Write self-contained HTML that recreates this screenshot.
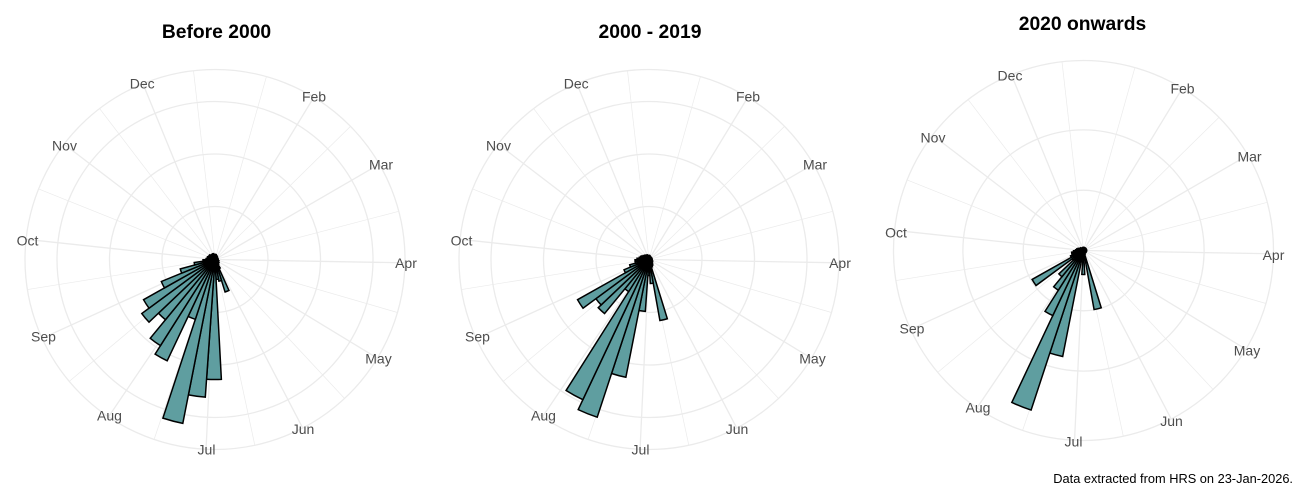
<!DOCTYPE html>
<html><head><meta charset="utf-8"><style>
html,body{margin:0;padding:0;background:#fff;}
svg{display:block;}
.lab{font-family:"Liberation Sans",Arial,sans-serif;font-size:14px;fill:#4D4D4D;text-anchor:middle;}
.ttl{font-family:"Liberation Sans",Arial,sans-serif;font-size:19.3px;font-weight:bold;fill:#000;text-anchor:middle;}
.cap{font-family:"Liberation Sans",Arial,sans-serif;font-size:12.8px;fill:#000;text-anchor:end;}
</style></head><body>
<svg width="1300" height="500" viewBox="0 0 1300 500" xmlns="http://www.w3.org/2000/svg">
<defs>
<path id="r3" d="M0 0L-.19 -2.99A3 3 0 0 1 .19 -2.99Z"/>
<path id="r4" d="M0 0L-.25 -3.99A4 4 0 0 1 .25 -3.99Z"/>
<path id="r5" d="M0 0L-.31 -4.99A5 5 0 0 1 .31 -4.99Z"/>
<path id="r6" d="M0 0L-.37 -5.99A6 6 0 0 1 .37 -5.99Z"/>
<path id="r7" d="M0 0L-.43 -6.99A7 7 0 0 1 .43 -6.99Z"/>
<path id="r8" d="M0 0L-.49 -7.98A8 8 0 0 1 .49 -7.98Z"/>
<path id="r9" d="M0 0L-.56 -8.98A9 9 0 0 1 .56 -8.98Z"/>
<path id="r10" d="M0 0L-.62 -9.98A10 10 0 0 1 .62 -9.98Z"/>
<path id="r12" d="M0 0L-.74 -11.98A12 12 0 0 1 .74 -11.98Z"/>
<path id="r14" d="M0 0L-.86 -13.97A14 14 0 0 1 .86 -13.97Z"/>
<path id="r16" d="M0 0L-.99 -15.97A16 16 0 0 1 .99 -15.97Z"/>
<path id="r20" d="M0 0L-1.23 -19.96A20 20 0 0 1 1.23 -19.96Z"/>
<path id="r21" d="M0 0L-1.30 -20.96A21 21 0 0 1 1.30 -20.96Z"/>
<path id="r22" d="M0 0L-1.36 -21.96A22 22 0 0 1 1.36 -21.96Z"/>
<path id="r24" d="M0 0L-1.48 -23.95A24 24 0 0 1 1.48 -23.95Z"/>
<path id="r27" d="M0 0L-1.67 -26.95A27 27 0 0 1 1.67 -26.95Z"/>
<path id="r34" d="M0 0L-2.10 -33.93A34 34 0 0 1 2.10 -33.93Z"/>
<path id="r36" d="M0 0L-2.22 -35.93A36 36 0 0 1 2.22 -35.93Z"/>
<path id="r38" d="M0 0L-2.34 -37.92A38 38 0 0 1 2.34 -37.92Z"/>
<path id="r47" d="M0 0L-2.90 -46.91A47 47 0 0 1 2.90 -46.91Z"/>
<path id="r52" d="M0 0L-3.21 -51.90A52 52 0 0 1 3.21 -51.90Z"/>
<path id="r58" d="M0 0L-3.58 -57.88A58 58 0 0 1 3.58 -57.88Z"/>
<path id="r59" d="M0 0L-3.64 -58.88A59 59 0 0 1 3.64 -58.88Z"/>
<path id="r60" d="M0 0L-3.70 -59.88A60 60 0 0 1 3.70 -59.88Z"/>
<path id="r62" d="M0 0L-3.83 -61.88A62 62 0 0 1 3.83 -61.88Z"/>
<path id="r63" d="M0 0L-3.89 -62.87A63 63 0 0 1 3.89 -62.87Z"/>
<path id="r66" d="M0 0L-4.07 -65.87A66 66 0 0 1 4.07 -65.87Z"/>
<path id="r70" d="M0 0L-4.32 -69.86A70 70 0 0 1 4.32 -69.86Z"/>
<path id="r72" d="M0 0L-4.44 -71.86A72 72 0 0 1 4.44 -71.86Z"/>
<path id="r78" d="M0 0L-4.81 -77.84A78 78 0 0 1 4.81 -77.84Z"/>
<path id="r82" d="M0 0L-5.06 -81.84A82 82 0 0 1 5.06 -81.84Z"/>
<path id="r91" d="M0 0L-5.61 -90.82A91 91 0 0 1 5.61 -90.82Z"/>
<path id="r102" d="M0 0L-6.29 -101.80A102 102 0 0 1 6.29 -101.80Z"/>
<path id="r108" d="M0 0L-6.66 -107.78A108 108 0 0 1 6.66 -107.78Z"/>
<path id="r112" d="M0 0L-6.91 -111.78A112 112 0 0 1 6.91 -111.78Z"/>
<path id="r120" d="M0 0L-7.40 -119.76A120 120 0 0 1 7.40 -119.76Z"/>
<path id="r138" d="M0 0L-8.51 -137.72A138 138 0 0 1 8.51 -137.72Z"/>
<path id="r155" d="M0 0L-9.56 -154.69A155 155 0 0 1 9.56 -154.69Z"/>
<path id="r166" d="M0 0L-10.24 -165.67A166 166 0 0 1 10.24 -165.67Z"/>
<path id="r167" d="M0 0L-10.30 -166.67A167 167 0 0 1 10.30 -166.67Z"/>
<path id="r168" d="M0 0L-10.37 -167.66A168 168 0 0 1 10.37 -167.66Z"/>
<g id="grid">
 <g stroke="#EBEBEB" stroke-width="0.7" fill="none">
  <line x1="0" y1="0" x2="0" y2="-190" transform="rotate(15.7)"/>
  <line x1="0" y1="0" x2="0" y2="-190" transform="rotate(45.5)"/>
  <line x1="0" y1="0" x2="0" y2="-190" transform="rotate(75.3)"/>
  <line x1="0" y1="0" x2="0" y2="-190" transform="rotate(106.2)"/>
  <line x1="0" y1="0" x2="0" y2="-190" transform="rotate(137.0)"/>
  <line x1="0" y1="0" x2="0" y2="-190" transform="rotate(167.9)"/>
  <line x1="0" y1="0" x2="0" y2="-190" transform="rotate(198.7)"/>
  <line x1="0" y1="0" x2="0" y2="-190" transform="rotate(230.1)"/>
  <line x1="0" y1="0" x2="0" y2="-190" transform="rotate(260.9)"/>
  <line x1="0" y1="0" x2="0" y2="-190" transform="rotate(291.8)"/>
  <line x1="0" y1="0" x2="0" y2="-190" transform="rotate(322.6)"/>
  <line x1="0" y1="0" x2="0" y2="-190" transform="rotate(353.5)"/>
 </g>
 <g stroke="#EBEBEB" stroke-width="1.3" fill="none">
  <line x1="0" y1="0" x2="0" y2="-190" transform="rotate(31.35)"/>
  <line x1="0" y1="0" x2="0" y2="-190" transform="rotate(59.9)"/>
  <line x1="0" y1="0" x2="0" y2="-190" transform="rotate(91.0)"/>
  <line x1="0" y1="0" x2="0" y2="-190" transform="rotate(121.3)"/>
  <line x1="0" y1="0" x2="0" y2="-190" transform="rotate(152.5)"/>
  <line x1="0" y1="0" x2="0" y2="-190" transform="rotate(182.7)"/>
  <line x1="0" y1="0" x2="0" y2="-190" transform="rotate(214.1)"/>
  <line x1="0" y1="0" x2="0" y2="-190" transform="rotate(245.5)"/>
  <line x1="0" y1="0" x2="0" y2="-190" transform="rotate(276.1)"/>
  <line x1="0" y1="0" x2="0" y2="-190" transform="rotate(307.4)"/>
  <line x1="0" y1="0" x2="0" y2="-190" transform="rotate(337.7)"/>
  <circle cx="0" cy="0" r="190"/>
 </g>
</g>
</defs>

<rect x="0" y="0" width="1300" height="500" fill="#fff"/>

<text class="ttl" x="216.5" y="38">Before 2000</text>
<text class="ttl" x="650" y="38">2000 - 2019</text>
<text class="ttl" x="1082.5" y="30">2020 onwards</text>

<g transform="translate(215 259.5)">
 <use href="#grid"/>
 <g stroke="#EBEBEB" stroke-width="1.3" fill="none">
  <circle cx="0" cy="0" r="53"/>
  <circle cx="0" cy="0" r="105.5"/>
  <circle cx="0" cy="0" r="158"/>
 </g>
 <g fill="#5F9EA0" stroke="#000" stroke-width="1.5">
  <use href="#r5" transform="rotate(3.54)"/>
  <use href="#r5" transform="rotate(10.62)"/>
  <use href="#r4" transform="rotate(17.70)"/>
  <use href="#r4" transform="rotate(24.77)"/>
  <use href="#r4" transform="rotate(31.85)"/>
  <use href="#r3" transform="rotate(38.93)"/>
  <use href="#r3" transform="rotate(46.01)"/>
  <use href="#r3" transform="rotate(53.09)"/>
  <use href="#r3" transform="rotate(60.16)"/>
  <use href="#r3" transform="rotate(67.24)"/>
  <use href="#r3" transform="rotate(74.32)"/>
  <use href="#r3" transform="rotate(81.40)"/>
  <use href="#r3" transform="rotate(88.48)"/>
  <use href="#r3" transform="rotate(95.55)"/>
  <use href="#r3" transform="rotate(102.63)"/>
  <use href="#r4" transform="rotate(109.71)"/>
  <use href="#r4" transform="rotate(116.79)"/>
  <use href="#r4" transform="rotate(123.87)"/>
  <use href="#r5" transform="rotate(130.94)"/>
  <use href="#r5" transform="rotate(138.02)"/>
  <use href="#r6" transform="rotate(145.10)"/>
  <use href="#r10" transform="rotate(152.18)"/>
  <use href="#r34" transform="rotate(159.26)"/>
  <use href="#r22" transform="rotate(166.33)"/>
  <use href="#r20" transform="rotate(173.41)"/>
  <use href="#r120" transform="rotate(180.49)"/>
  <use href="#r138" transform="rotate(187.57)"/>
  <use href="#r167" transform="rotate(194.65)"/>
  <use href="#r63" transform="rotate(201.72)"/>
  <use href="#r112" transform="rotate(208.80)"/>
  <use href="#r102" transform="rotate(215.88)"/>
  <use href="#r78" transform="rotate(222.96)"/>
  <use href="#r91" transform="rotate(230.04)"/>
  <use href="#r82" transform="rotate(237.11)"/>
  <use href="#r58" transform="rotate(244.19)"/>
  <use href="#r36" transform="rotate(251.27)"/>
  <use href="#r21" transform="rotate(258.35)"/>
  <use href="#r12" transform="rotate(265.43)"/>
  <use href="#r9" transform="rotate(272.50)"/>
  <use href="#r8" transform="rotate(279.58)"/>
  <use href="#r8" transform="rotate(286.66)"/>
  <use href="#r7" transform="rotate(293.74)"/>
  <use href="#r7" transform="rotate(300.82)"/>
  <use href="#r7" transform="rotate(307.89)"/>
  <use href="#r6" transform="rotate(314.97)"/>
  <use href="#r6" transform="rotate(322.05)"/>
  <use href="#r6" transform="rotate(329.13)"/>
  <use href="#r6" transform="rotate(336.21)"/>
  <use href="#r6" transform="rotate(343.28)"/>
  <use href="#r5" transform="rotate(350.36)"/>
  <use href="#r5" transform="rotate(357.44)"/>
 </g>
 <text class="lab" x="-72.8" y="-171">Dec</text>
 <text class="lab" x="99" y="-158">Feb</text>
 <text class="lab" x="166" y="-90">Mar</text>
 <text class="lab" x="191" y="8.5">Apr</text>
 <text class="lab" x="163.5" y="104">May</text>
 <text class="lab" x="88" y="174.5">Jun</text>
 <text class="lab" x="-8.5" y="195">Jul</text>
 <text class="lab" x="-105.5" y="161">Aug</text>
 <text class="lab" x="-171.5" y="82">Sep</text>
 <text class="lab" x="-187.5" y="-14">Oct</text>
 <text class="lab" x="-150.5" y="-109">Nov</text>
</g>

<g transform="translate(649 259.5)">
 <use href="#grid"/>
 <g stroke="#EBEBEB" stroke-width="1.3" fill="none">
  <circle cx="0" cy="0" r="53"/>
  <circle cx="0" cy="0" r="105.5"/>
  <circle cx="0" cy="0" r="158"/>
 </g>
 <g fill="#5F9EA0" stroke="#000" stroke-width="1.5">
  <use href="#r4" transform="rotate(3.54)"/>
  <use href="#r4" transform="rotate(10.62)"/>
  <use href="#r3" transform="rotate(17.70)"/>
  <use href="#r3" transform="rotate(24.77)"/>
  <use href="#r3" transform="rotate(31.85)"/>
  <use href="#r3" transform="rotate(38.93)"/>
  <use href="#r3" transform="rotate(46.01)"/>
  <use href="#r3" transform="rotate(53.09)"/>
  <use href="#r3" transform="rotate(60.16)"/>
  <use href="#r3" transform="rotate(67.24)"/>
  <use href="#r3" transform="rotate(74.32)"/>
  <use href="#r3" transform="rotate(81.40)"/>
  <use href="#r3" transform="rotate(88.48)"/>
  <use href="#r3" transform="rotate(95.55)"/>
  <use href="#r3" transform="rotate(102.63)"/>
  <use href="#r3" transform="rotate(109.71)"/>
  <use href="#r4" transform="rotate(116.79)"/>
  <use href="#r4" transform="rotate(123.87)"/>
  <use href="#r4" transform="rotate(130.94)"/>
  <use href="#r5" transform="rotate(138.02)"/>
  <use href="#r6" transform="rotate(145.10)"/>
  <use href="#r7" transform="rotate(152.18)"/>
  <use href="#r8" transform="rotate(159.26)"/>
  <use href="#r62" transform="rotate(166.33)"/>
  <use href="#r24" transform="rotate(173.41)"/>
  <use href="#r16" transform="rotate(180.49)"/>
  <use href="#r52" transform="rotate(187.57)"/>
  <use href="#r120" transform="rotate(194.65)"/>
  <use href="#r166" transform="rotate(201.72)"/>
  <use href="#r155" transform="rotate(208.80)"/>
  <use href="#r38" transform="rotate(215.88)"/>
  <use href="#r70" transform="rotate(222.96)"/>
  <use href="#r66" transform="rotate(230.04)"/>
  <use href="#r82" transform="rotate(237.11)"/>
  <use href="#r27" transform="rotate(244.19)"/>
  <use href="#r20" transform="rotate(251.27)"/>
  <use href="#r14" transform="rotate(258.35)"/>
  <use href="#r14" transform="rotate(265.43)"/>
  <use href="#r12" transform="rotate(272.50)"/>
  <use href="#r10" transform="rotate(279.58)"/>
  <use href="#r9" transform="rotate(286.66)"/>
  <use href="#r8" transform="rotate(293.74)"/>
  <use href="#r7" transform="rotate(300.82)"/>
  <use href="#r6" transform="rotate(307.89)"/>
  <use href="#r6" transform="rotate(314.97)"/>
  <use href="#r5" transform="rotate(322.05)"/>
  <use href="#r5" transform="rotate(329.13)"/>
  <use href="#r5" transform="rotate(336.21)"/>
  <use href="#r4" transform="rotate(343.28)"/>
  <use href="#r4" transform="rotate(350.36)"/>
  <use href="#r4" transform="rotate(357.44)"/>
 </g>
 <text class="lab" x="-72.8" y="-171">Dec</text>
 <text class="lab" x="99" y="-158">Feb</text>
 <text class="lab" x="166" y="-90">Mar</text>
 <text class="lab" x="191" y="8.5">Apr</text>
 <text class="lab" x="163.5" y="104">May</text>
 <text class="lab" x="88" y="174.5">Jun</text>
 <text class="lab" x="-8.5" y="195">Jul</text>
 <text class="lab" x="-105.5" y="161">Aug</text>
 <text class="lab" x="-171.5" y="82">Sep</text>
 <text class="lab" x="-187.5" y="-14">Oct</text>
 <text class="lab" x="-150.5" y="-109">Nov</text>
</g>

<g transform="translate(1083.5 250.5)">
 <use href="#grid"/>
 <g stroke="#EBEBEB" stroke-width="1.3" fill="none">
  <circle cx="0" cy="0" r="60.3"/>
  <circle cx="0" cy="0" r="120.6"/>
 </g>
 <g fill="#5F9EA0" stroke="#000" stroke-width="1.5">
  <use href="#r3" transform="rotate(3.54)"/>
  <use href="#r3" transform="rotate(10.62)"/>
  <use href="#r3" transform="rotate(17.70)"/>
  <use href="#r3" transform="rotate(24.77)"/>
  <use href="#r3" transform="rotate(31.85)"/>
  <use href="#r3" transform="rotate(38.93)"/>
  <use href="#r3" transform="rotate(46.01)"/>
  <use href="#r3" transform="rotate(53.09)"/>
  <use href="#r3" transform="rotate(60.16)"/>
  <use href="#r3" transform="rotate(67.24)"/>
  <use href="#r3" transform="rotate(74.32)"/>
  <use href="#r3" transform="rotate(81.40)"/>
  <use href="#r3" transform="rotate(88.48)"/>
  <use href="#r3" transform="rotate(95.55)"/>
  <use href="#r3" transform="rotate(102.63)"/>
  <use href="#r3" transform="rotate(109.71)"/>
  <use href="#r3" transform="rotate(116.79)"/>
  <use href="#r3" transform="rotate(123.87)"/>
  <use href="#r3" transform="rotate(130.94)"/>
  <use href="#r3" transform="rotate(138.02)"/>
  <use href="#r3" transform="rotate(145.10)"/>
  <use href="#r3" transform="rotate(152.18)"/>
  <use href="#r4" transform="rotate(159.26)"/>
  <use href="#r60" transform="rotate(166.33)"/>
  <use href="#r6" transform="rotate(173.41)"/>
  <use href="#r24" transform="rotate(180.49)"/>
  <use href="#r8" transform="rotate(187.57)"/>
  <use href="#r108" transform="rotate(194.65)"/>
  <use href="#r168" transform="rotate(201.72)"/>
  <use href="#r72" transform="rotate(208.80)"/>
  <use href="#r47" transform="rotate(215.88)"/>
  <use href="#r34" transform="rotate(222.96)"/>
  <use href="#r14" transform="rotate(230.04)"/>
  <use href="#r59" transform="rotate(237.11)"/>
  <use href="#r14" transform="rotate(244.19)"/>
  <use href="#r12" transform="rotate(251.27)"/>
  <use href="#r12" transform="rotate(258.35)"/>
  <use href="#r10" transform="rotate(265.43)"/>
  <use href="#r8" transform="rotate(272.50)"/>
  <use href="#r7" transform="rotate(279.58)"/>
  <use href="#r6" transform="rotate(286.66)"/>
  <use href="#r5" transform="rotate(293.74)"/>
  <use href="#r4" transform="rotate(300.82)"/>
  <use href="#r4" transform="rotate(307.89)"/>
  <use href="#r3" transform="rotate(314.97)"/>
  <use href="#r3" transform="rotate(322.05)"/>
  <use href="#r3" transform="rotate(329.13)"/>
  <use href="#r3" transform="rotate(336.21)"/>
  <use href="#r3" transform="rotate(343.28)"/>
  <use href="#r3" transform="rotate(350.36)"/>
  <use href="#r3" transform="rotate(357.44)"/>
 </g>
 <text class="lab" x="-73.5" y="-170">Dec</text>
 <text class="lab" x="99" y="-157">Feb</text>
 <text class="lab" x="166" y="-89">Mar</text>
 <text class="lab" x="190" y="9.5">Apr</text>
 <text class="lab" x="163.5" y="105">May</text>
 <text class="lab" x="88" y="175.5">Jun</text>
 <text class="lab" x="-10" y="196">Jul</text>
 <text class="lab" x="-105.5" y="162">Aug</text>
 <text class="lab" x="-171.5" y="83">Sep</text>
 <text class="lab" x="-187.5" y="-13">Oct</text>
 <text class="lab" x="-150.5" y="-108">Nov</text>
</g>

<text class="cap" x="1293" y="483">Data extracted from HRS on 23-Jan-2026.</text>
</svg>
</body></html>
